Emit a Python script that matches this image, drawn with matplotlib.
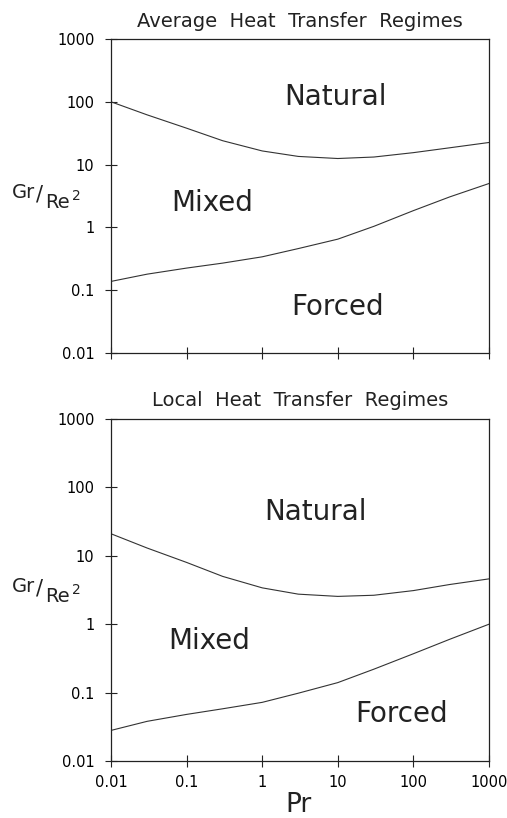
import matplotlib
matplotlib.use("Agg")
import matplotlib.pyplot as plt

# Prandtl number sample points (both panels)
pr = [0.01, 0.03, 0.1, 0.3, 1, 3, 10, 30, 100, 300, 1000]

# Average heat transfer: natural/mixed and mixed/forced boundaries
avg_upper = [100, 62, 38, 24, 16.5, 13.5, 12.5, 13.2, 15.5, 18.5, 22.5]
avg_lower = [0.138, 0.18, 0.225, 0.27, 0.34, 0.46, 0.65, 1.04, 1.85, 3.05, 5.0]

# Local heat transfer boundaries
loc_upper = [21, 13, 8, 5, 3.4, 2.75, 2.55, 2.65, 3.1, 3.8, 4.6]
loc_lower = [0.028, 0.038, 0.048, 0.058, 0.072, 0.098, 0.14, 0.22, 0.37, 0.6, 1.0]

decades = [0.01, 0.1, 1, 10, 100, 1000]
decade_labels = ["0.01", "0.1", "1", "10", "100", "1000"]

W, H = 507, 818
fig = plt.figure(figsize=(W / 100, H / 100), dpi=100)

def px_axes(left, top, right, bottom):
    return fig.add_axes([left / W, 1 - bottom / H, (right - left) / W, (bottom - top) / H])

def px_text(x, y, s, **kw):
    fig.text(x / W, 1 - y / H, s, **kw)

ink = "#222222"
panels = [
    (px_axes(111, 39, 489, 353), "Average  Heat  Transfer  Regimes", avg_upper, avg_lower,
     [(9.2, 120, "Natural"), (0.22, 2.45, "Mixed"), (10, 0.054, "Forced")], 196),
    (px_axes(111, 419, 489, 761), "Local  Heat  Transfer  Regimes", loc_upper, loc_lower,
     [(5, 43, "Natural"), (0.2, 0.57, "Mixed"), (70, 0.048, "Forced")], 590),
]

for i, (ax, title, upper, lower, labels, yc) in enumerate(panels):
    ax.plot(pr, upper, color="#333333", lw=0.8)
    ax.plot(pr, lower, color="#333333", lw=0.8)
    ax.set_xscale("log")
    ax.set_yscale("log")
    ax.set_xlim(0.01, 1000)
    ax.set_ylim(0.01, 1000)
    ax.set_xticks(decades)
    ax.set_yticks(decades)
    ax.minorticks_off()
    ax.set_yticklabels(decade_labels, fontsize=10.5)
    if i == 1:
        ax.set_xticklabels(decade_labels, fontsize=10.5)
    else:
        ax.set_xticklabels([])
    ax.tick_params(direction="inout", length=8, width=0.8, color=ink, pad=6)
    ax.tick_params(axis="y", pad=8)
    for sp in ax.spines.values():
        sp.set_linewidth(0.9)
        sp.set_color(ink)
    ax.set_title(title, fontsize=14, pad=9, color=ink)
    for x, y, s in labels:
        ax.text(x, y, s, fontsize=20, ha="center", va="center", color=ink)
    # y label Gr/Re^2
    px_text(12, yc - 3.5, "Gr", fontsize=14, ha="left", va="center", color=ink)
    px_text(40, yc - 1, "/", fontsize=15, ha="center", va="center", color=ink)
    px_text(45, yc + 6.5, "Re", fontsize=14, ha="left", va="center", color=ink)
    px_text(72, yc + 0.5, "2", fontsize=10, ha="left", va="center", color=ink)

px_text(298, 805, "Pr", fontsize=19, ha="center", va="center", color=ink)

fig.savefig("out.png", dpi=100)
